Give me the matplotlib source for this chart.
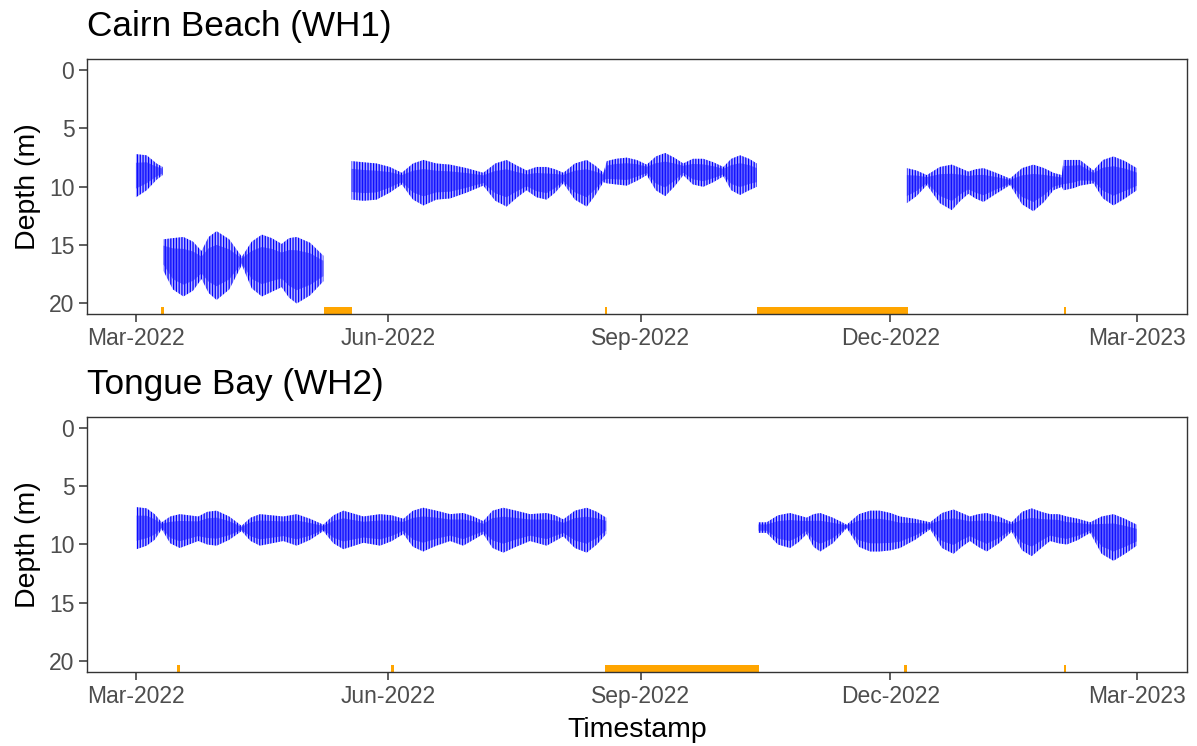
import matplotlib
matplotlib.use('Agg')
import matplotlib.pyplot as plt
import matplotlib.dates as mdates
import numpy as np
import pandas as pd

plt.rcParams['font.family'] = ['Liberation Sans', 'DejaVu Sans']
plt.rcParams['hatch.color'] = 'blue'
plt.rcParams['hatch.linewidth'] = 0.9

# logger deployment start; sample times are days after it
t0 = pd.Timestamp('2022-03-01')

# Tidal depth envelope: shallow side (top) / deep side (bot), metres
# Cairn Beach (WH1)
wh1_a_day = [0.0, 3.9, 7.5, 9.7]
wh1_a_top = [7.2, 7.3, 8.0, 8.3]
wh1_a_bot = [10.9, 10.3, 9.4, 9.0]

wh1_b_day = [10.0, 13.5, 17.3, 20.8, 23.9, 26.5, 29.4, 34.0, 38.6, 42.2, 45.9, 49.5,
             53.1, 55.8, 58.6, 63.5, 68.3]
wh1_b_top = [14.5, 14.4, 14.3, 14.7, 15.5, 14.3, 13.8, 14.5, 16.0, 14.7, 14.1, 14.4,
             14.9, 14.4, 14.3, 14.8, 15.9]
wh1_b_bot = [17.2, 18.8, 19.4, 18.9, 17.9, 19.1, 19.7, 18.8, 16.7, 18.7, 19.4, 19.0,
             18.6, 19.5, 20.0, 19.3, 18.1]

wh1_c_day = [78.6, 83.0, 87.7, 92.5, 96.9, 101.0, 104.8, 109.5, 114.5, 120.5, 126.6, 131.0,
             135.1, 139.0, 142.4, 146.0, 149.7, 152.8, 155.8, 160.0, 164.3, 167.5, 170.4,
             171.6, 175.0, 178.9, 182.5, 186.2, 189.5, 192.9, 196.2, 199.5, 203.0, 206.8,
             210.5, 214.1, 217.0, 220.2, 223.5, 226.3]
wh1_c_top = [7.8, 7.9, 8.0, 8.3, 8.8, 8.0, 7.7, 8.0, 8.1, 8.4, 8.8, 8.0,
             7.7, 8.2, 8.6, 8.3, 8.3, 8.5, 8.8, 8.0, 7.7, 8.2, 8.8,
             7.8, 7.6, 7.5, 7.7, 8.1, 7.4, 7.1, 7.5, 8.0, 7.6, 7.6,
             7.9, 8.3, 7.6, 7.3, 7.6, 8.0]
wh1_c_bot = [11.1, 11.2, 11.1, 10.5, 9.8, 11.1, 11.6, 11.1, 11.0, 10.5, 9.9, 11.2,
             11.7, 10.9, 10.3, 10.9, 11.1, 10.5, 9.7, 11.1, 11.7, 10.7, 9.6,
             9.7, 9.8, 9.9, 9.5, 9.0, 10.3, 10.8, 10.0, 9.0, 9.8, 10.0,
             9.6, 9.1, 10.3, 10.7, 10.3, 10.0]

wh1_d_day = [281.0, 284.5, 288.3, 293.0, 297.4, 300.5, 303.4, 306.0, 308.9, 313.5, 318.6,
             323.0, 327.1, 331.0, 334.4, 337.5, 338.1, 342.0, 344.1, 349.0, 352.5, 356.3,
             360.5, 364.8]
wh1_d_top = [8.4, 8.6, 9.0, 8.3, 8.1, 8.4, 8.7, 8.5, 8.4, 8.8, 9.3,
             8.4, 8.1, 8.4, 8.8, 9.0, 7.7, 7.7, 7.7, 8.6, 7.7, 7.4,
             7.8, 8.4]
wh1_d_bot = [11.4, 10.8, 9.85, 11.4, 12.0, 11.2, 10.6, 11.0, 11.3, 10.6, 9.85,
             11.5, 12.1, 11.3, 10.3, 10.0, 10.3, 10.1, 9.9, 9.7, 11.0, 11.6,
             11.0, 10.3]

# Tongue Bay (WH2)
wh2_a_day = [0.24, 3.9, 6.8, 9.4, 12.5, 16.0, 22.7, 26.0, 29.4, 34.0, 38.5, 41.8, 45.2,
             53.7, 58.6, 63.5, 68.3, 72.0, 75.6, 82.9, 89.0, 93.3, 97.5, 101.0, 104.7,
             109.5, 114.5, 119.3, 123.0, 126.6, 130.0, 133.9, 138.5, 143.6, 149.7, 152.8,
             155.8, 160.0, 164.3, 168.0, 171.4]
wh2_a_top = [6.8, 6.9, 7.4, 8.1, 7.6, 7.4, 7.6, 7.2, 7.1, 7.6, 8.4, 7.7, 7.4,
             7.6, 7.4, 7.8, 8.3, 7.5, 7.1, 7.6, 7.4, 7.5, 7.8, 7.1, 6.85,
             7.1, 7.4, 7.3, 7.6, 8.0, 7.1, 6.85, 7.1, 7.4, 7.3, 7.5,
             7.85, 7.1, 6.85, 7.2, 7.7]
wh2_a_bot = [10.4, 10.1, 9.6, 8.7, 9.9, 10.3, 9.7, 10.0, 10.1, 9.6, 8.85, 9.7, 10.1,
             9.7, 10.1, 9.6, 8.85, 9.9, 10.4, 9.85, 10.1, 9.7, 9.1, 10.2, 10.6,
             10.1, 9.7, 10.1, 9.6, 9.1, 10.3, 10.7, 10.2, 9.7, 10.1, 9.7,
             9.3, 10.3, 10.7, 10.0, 9.1]

wh2_b_day = [226.9, 229.9, 234.0, 238.4, 241.5, 244.5, 247.0, 249.4, 254.0, 259.1, 263.5,
             267.6, 271.2, 275.0, 278.5, 284.0, 289.5, 293.8, 298.0, 301.0, 304.0, 307.0,
             310.1, 314.5, 319.2, 323.0, 326.5, 330.0, 333.2, 336.3, 339.3, 343.5, 347.8,
             352.0, 356.3, 360.5, 364.8]
wh2_b_top = [8.1, 8.1, 7.5, 7.3, 7.5, 7.7, 7.4, 7.3, 7.7, 8.3, 7.4,
             7.1, 7.1, 7.3, 7.6, 7.8, 8.1, 7.3, 7.0, 7.3, 7.6, 7.4,
             7.3, 7.6, 8.1, 7.2, 6.9, 7.2, 7.4, 7.4, 7.6, 7.8, 8.1,
             7.6, 7.4, 7.8, 8.3]
wh2_b_bot = [9.0, 9.0, 10.0, 10.3, 9.8, 9.1, 10.2, 10.6, 9.9, 8.6, 10.2,
             10.6, 10.6, 10.5, 10.3, 9.6, 8.7, 10.3, 10.8, 10.2, 9.7, 10.2,
             10.6, 9.9, 8.9, 10.5, 11.0, 10.3, 9.7, 9.9, 10.0, 9.6, 9.0,
             10.8, 11.4, 10.8, 10.1]

# Orange markers along the bottom (start, end)
wh1_gap_start = ['2022-03-10 07:00', '2022-05-08 16:00', '2022-08-19 03:00',
                 '2022-10-13 07:00', '2023-02-02 03:00']
wh1_gap_end = ['2022-03-11 07:00', '2022-05-18 17:00', '2022-08-19 21:00',
               '2022-12-07 07:00', '2023-02-02 21:00']
wh2_gap_start = ['2022-03-16 03:00', '2022-06-02 03:00', '2022-08-19 00:00',
                 '2022-12-06 03:00', '2023-02-02 03:00']
wh2_gap_end = ['2022-03-16 21:00', '2022-06-02 21:00', '2022-10-14 02:00',
               '2022-12-06 21:00', '2023-02-02 21:00']

sites = [
    ('Cairn Beach (WH1)',
     [(wh1_a_day, wh1_a_top, wh1_a_bot), (wh1_b_day, wh1_b_top, wh1_b_bot),
      (wh1_c_day, wh1_c_top, wh1_c_bot), (wh1_d_day, wh1_d_top, wh1_d_bot)],
     wh1_gap_start, wh1_gap_end),
    ('Tongue Bay (WH2)',
     [(wh2_a_day, wh2_a_top, wh2_a_bot), (wh2_b_day, wh2_b_top, wh2_b_bot)],
     wh2_gap_start, wh2_gap_end),
]

fig = plt.figure(figsize=(11.97, 7.46), dpi=100)
axes = [fig.add_axes([0.0729, 0.5791, 0.9185, 0.3418]),
        fig.add_axes([0.0729, 0.0996, 0.9185, 0.3418])]

x0 = t0 - pd.Timedelta(days=17.75)
x1 = pd.Timestamp('2023-03-19')

for ax, (title, segments, g_start, g_end) in zip(axes, sites):
    for day, top, bot in segments:
        t = t0 + pd.to_timedelta(day, unit='D')
        top = np.array(top)
        bot = np.array(bot)
        # outer reach of the tidal swings: thin vertical strokes
        ax.fill_between(t, top, bot, facecolor=(0, 0, 1, 0.28), edgecolor='blue',
                        linewidth=0, hatch='||||||')
        # overlapping swings make the middle of the band look solid
        mid = (top + bot) / 2
        half = (bot - top) / 2
        ax.fill_between(t, mid - 0.6 * half, mid + 0.6 * half,
                        facecolor=(0.1, 0.1, 1, 0.55), linewidth=0)
    for s, e in zip(g_start, g_end):
        ax.axvspan(pd.Timestamp(s), pd.Timestamp(e), ymin=0, ymax=0.026,
                   color='orange', linewidth=0)

    ax.set_xlim(x0, x1)
    ax.set_ylim(20.9, -0.95)
    ax.set_yticks([0, 5, 10, 15, 20])
    ax.xaxis.set_major_locator(mdates.MonthLocator(bymonth=[3, 6, 9, 12]))
    ax.xaxis.set_major_formatter(mdates.DateFormatter('%b-%Y'))
    ax.tick_params(length=5.8, width=1.1, color='#333333', labelcolor='#4D4D4D',
                   labelsize=16.5, pad=3.5)
    for sp in ax.spines.values():
        sp.set_color('#333333')
        sp.set_linewidth(1.0)
    ax.set_ylabel('Depth (m)', fontsize=20.5, labelpad=6)
    ax.set_title(title, loc='left', fontsize=25.3, pad=16.5)

axes[1].set_xlabel('Timestamp', fontsize=20.5, labelpad=7)

fig.savefig('out.png', dpi=100)
